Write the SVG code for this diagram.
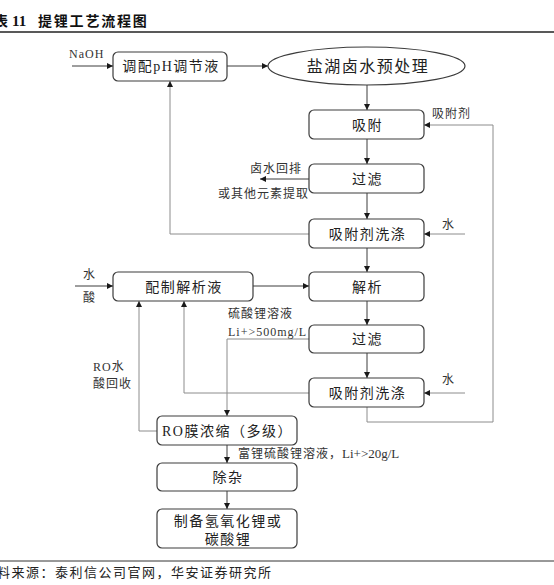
<svg xmlns="http://www.w3.org/2000/svg" width="554" height="585" viewBox="0 0 554 585">
<style>
.bx{fill:#fff;stroke:#3c3c3c;stroke-width:1.2}
.t{font-family:"Liberation Serif","Noto Sans CJK SC",serif;fill:#222;text-anchor:middle;dominant-baseline:central}
.t14{font-size:14px;letter-spacing:1.5px}
.s{font-family:"Liberation Serif","Noto Sans CJK SC",serif;fill:#333;font-size:12px;letter-spacing:1px}
.d{fill:none;stroke:#3c3c3c;stroke-width:1}
.g{fill:none;stroke:#8c8c8c;stroke-width:1}
</style>
<defs>
<marker id="ah" markerUnits="userSpaceOnUse" markerWidth="7" markerHeight="7" refX="6" refY="3" orient="auto">
<path d="M0,0 L6,3 L0,6 z" fill="#1a1a1a"/>
</marker>
</defs>
<rect width="554" height="585" fill="#fff"/>
<g id="title">
<text x="-6" y="26" font-family="'Noto Sans CJK SC',sans-serif" font-weight="bold" font-size="14" fill="#111">表</text>
<text x="12" y="26" font-family="'Liberation Serif',serif" font-weight="bold" font-size="15" fill="#111">11</text>
<text x="38" y="26" font-family="'Noto Sans CJK SC',sans-serif" font-weight="bold" font-size="14" letter-spacing="1.8" fill="#111">提锂工艺流程图</text>
<line x1="0" y1="32" x2="554" y2="32" stroke="#222" stroke-width="1.5"/>
</g>
<g id="connectors">
<line class="d" x1="72" y1="66" x2="113" y2="66" marker-end="url(#ah)"/>
<line class="d" x1="227" y1="66" x2="268" y2="66" marker-end="url(#ah)"/>
<line class="d" x1="367" y1="85" x2="367" y2="110" marker-end="url(#ah)"/>
<line class="d" x1="367" y1="139" x2="367" y2="164" marker-end="url(#ah)"/>
<line class="d" x1="309" y1="179" x2="260" y2="179" marker-end="url(#ah)"/>
<line class="d" x1="367" y1="193" x2="367" y2="219" marker-end="url(#ah)"/>
<polyline class="g" points="309,234 170,234 170,81" marker-end="url(#ah)"/>
<line class="g" x1="465" y1="234" x2="424" y2="234" marker-end="url(#ah)"/>
<line class="d" x1="367" y1="248" x2="367" y2="272" marker-end="url(#ah)"/>
<line class="d" x1="75" y1="286" x2="113" y2="286" marker-end="url(#ah)"/>
<line class="d" x1="253" y1="286" x2="309" y2="286" marker-end="url(#ah)"/>
<line class="d" x1="367" y1="301" x2="367" y2="325" marker-end="url(#ah)"/>
<line class="d" x1="367" y1="353" x2="367" y2="378" marker-end="url(#ah)"/>
<polyline class="g" points="309,339 227,339 227,416" marker-end="url(#ah)"/>
<polyline class="g" points="309,393 184,393 184,301" marker-end="url(#ah)"/>
<line class="g" x1="465" y1="393" x2="424" y2="393" marker-end="url(#ah)"/>
<polyline class="g" points="367,407 367,422 493,422 493,125 424,125" marker-end="url(#ah)"/>
<polyline class="g" points="157,431 139,431 139,301" marker-end="url(#ah)"/>
<line class="d" x1="227" y1="445" x2="227" y2="463" marker-end="url(#ah)"/>
<line class="d" x1="227" y1="491" x2="227" y2="509" marker-end="url(#ah)"/>
</g>
<g id="labels">
<text class="s" x="69" y="58" letter-spacing="0" font-size="12.5">NaOH</text>
<text class="s" x="432" y="118">吸附剂</text>
<text class="s" x="250" y="173">卤水回排</text>
<text class="s" x="218" y="198">或其他元素提取</text>
<text class="s" x="442" y="229">水</text>
<text class="s" x="83" y="279">水</text>
<text class="s" x="83" y="302">酸</text>
<text class="s" x="228" y="318">硫酸锂溶液</text>
<text class="s" x="228" y="336" letter-spacing="0" font-size="13.5">Li+&gt;500mg/L</text>
<text class="s" x="93" y="371" letter-spacing="0">RO水</text>
<text class="s" x="93" y="388">酸回收</text>
<text class="s" x="442" y="384">水</text>
<text class="s" x="238" y="458" letter-spacing="1.8">富锂硫酸锂溶液，<tspan letter-spacing="0" font-size="13">Li+&gt;20g/L</tspan></text>
</g>
<g id="n-ph">
<rect class="bx" x="113" y="52" width="114" height="29" rx="5"/>
<text class="t t14" x="171" y="66.5">调配pH调节液</text>
</g>
<g id="n-pre">
<ellipse cx="366.5" cy="66" rx="98.5" ry="19" fill="#fff" stroke="#3c3c3c" stroke-width="1.2"/>
<text class="t" x="368" y="66.5" font-size="16" letter-spacing="1.5">盐湖卤水预处理</text>
</g>
<g id="n-ads">
<rect class="bx" x="309" y="110" width="115" height="29" rx="5"/>
<text class="t t14" x="367.5" y="125">吸附</text>
</g>
<g id="n-filter1">
<rect class="bx" x="309" y="164" width="115" height="29" rx="5"/>
<text class="t t14" x="367.5" y="179">过滤</text>
</g>
<g id="n-wash1">
<rect class="bx" x="309" y="219" width="115" height="29" rx="5"/>
<text class="t t14" x="367.5" y="234">吸附剂洗涤</text>
</g>
<g id="n-prep">
<rect class="bx" x="113" y="272" width="140" height="29" rx="5"/>
<text class="t t14" x="184" y="287">配制解析液</text>
</g>
<g id="n-desorb">
<rect class="bx" x="309" y="272" width="115" height="29" rx="5"/>
<text class="t t14" x="367.5" y="287">解析</text>
</g>
<g id="n-filter2">
<rect class="bx" x="309" y="325" width="115" height="28" rx="5"/>
<text class="t t14" x="367.5" y="339.5">过滤</text>
</g>
<g id="n-wash2">
<rect class="bx" x="309" y="378" width="115" height="29" rx="5"/>
<text class="t t14" x="367.5" y="393">吸附剂洗涤</text>
</g>
<g id="n-ro">
<rect class="bx" x="157" y="416" width="140" height="29" rx="5"/>
<text class="t t14" x="227.5" y="431" letter-spacing="0.5">RO膜浓缩（多级）</text>
</g>
<g id="n-purify">
<rect class="bx" x="157" y="463" width="140" height="28" rx="5"/>
<text class="t t14" x="228" y="477.5">除杂</text>
</g>
<g id="n-product">
<rect class="bx" x="157" y="509" width="140" height="39" rx="5"/>
<text class="t t14" x="228" y="521.5">制备氢氧化锂或</text>
<text class="t t14" x="228" y="539">碳酸锂</text>
</g>
<g id="footer">
<line x1="0" y1="561" x2="554" y2="561" stroke="#333" stroke-width="1"/>
<text x="-17.5" y="577" font-family="'Liberation Serif','Noto Sans CJK SC',serif" font-size="13" letter-spacing="1.5" fill="#222">资料来源：泰利信公司官网，华安证券研究所</text>
</g>
</svg>
